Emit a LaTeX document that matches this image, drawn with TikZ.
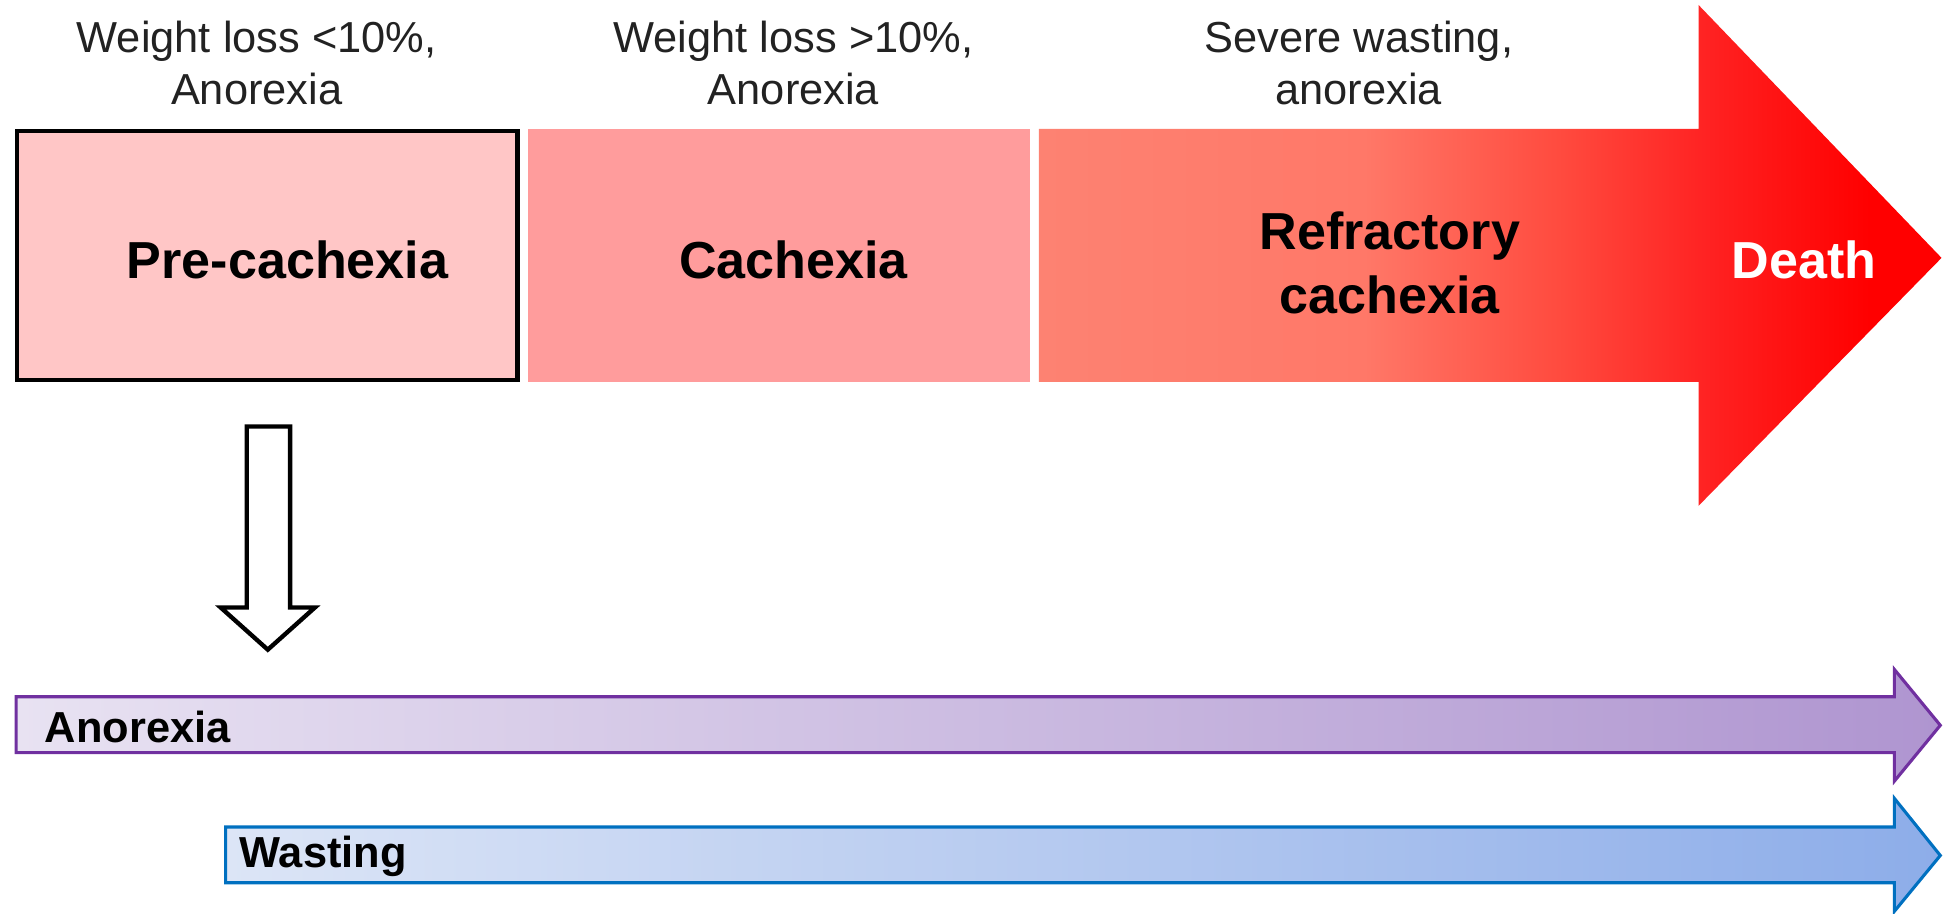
\documentclass[tikz,border=0pt]{standalone}
\usepackage{fontspec}
\setmainfont{Liberation Sans}
\definecolor{txt}{HTML}{222222}
\definecolor{prefill}{HTML}{FFC6C6}
\definecolor{cachfill}{HTML}{FF9C9C}
\definecolor{rA}{HTML}{FD8272}
\definecolor{rB}{HTML}{FF7868}
\definecolor{rC}{HTML}{FF4A3E}
\definecolor{rD}{HTML}{FF2222}
\definecolor{rE}{HTML}{FF0000}
\definecolor{anoL}{HTML}{E8E2F2}
\definecolor{anoR}{HTML}{AF95D0}
\definecolor{anoD}{HTML}{7030A0}
\definecolor{wasL}{HTML}{DCE5F6}
\definecolor{wasR}{HTML}{8DADE9}
\definecolor{wasD}{HTML}{0070C0}
\pgfdeclarehorizontalshading{refr}{100bp}{color(0bp)=(rA); color(25bp)=(rA); color(43bp)=(rB); color(54bp)=(rC); color(62bp)=(rD); color(71bp)=(rE); color(100bp)=(rE)}
\begin{document}
\begin{tikzpicture}[x=1pt,y=-1pt,
  toplabel/.style={font=\fontsize{35}{42}\selectfont, text=txt, align=center, inner sep=0pt},
  stage/.style={font=\fontsize{42}{52}\selectfont\bfseries, align=center, inner sep=0pt},
  barlabel/.style={font=\fontsize{35}{42}\selectfont\bfseries, anchor=west, inner sep=0pt},
  line join=miter]
\useasboundingbox (0,0) rectangle (1568,737);

% top labels
\node[toplabel] (t1) at (207,51) {Weight loss <10\%,\\Anorexia};
\node[toplabel] (t2) at (640,51) {Weight loss >10\%,\\Anorexia};
\node[toplabel] (t3) at (1096,51) {Severe wasting,\\anorexia};

% stage boxes
\fill[cachfill] (426,104) rectangle (831,308);
\draw[line width=3.5pt, fill=prefill] (13.5,105.5) rectangle (417.5,306.5);
\shade[shading=refr] (838,104) -- (1370,104) -- (1370,4) -- (1566,208) -- (1370,408) -- (1370,308) -- (838,308) -- cycle;

\node[stage] (pre) at (232,210) {Pre-cachexia};
\node[stage] (cach) at (640,210) {Cachexia};
\node[stage] (refr) at (1121,212) {Refractory\\cachexia};
\node[stage, text=white] (death) at (1455,210) {Death};

% hollow down arrow
\draw[line width=3.5pt, fill=white] (199,344) -- (234,344) -- (234,490) -- (254,490) -- (216,524) -- (178,490) -- (199,490) -- cycle;

% anorexia bar
\draw[draw=anoD, line width=2.5pt, left color=anoL, right color=anoR]
  (13,562) -- (1528,562) -- (1528,540) -- (1565,585) -- (1528,630) -- (1528,607) -- (13,607) -- cycle;
\node[barlabel] (ano) at (36,586) {Anorexia};

% wasting bar
\draw[draw=wasD, line width=2.5pt, left color=wasL, right color=wasR]
  (182,667) -- (1528,667) -- (1528,644) -- (1565,690) -- (1528,735) -- (1528,712) -- (182,712) -- cycle;
\node[barlabel] (was) at (193,691) {Wasting};
\end{tikzpicture}
\end{document}
